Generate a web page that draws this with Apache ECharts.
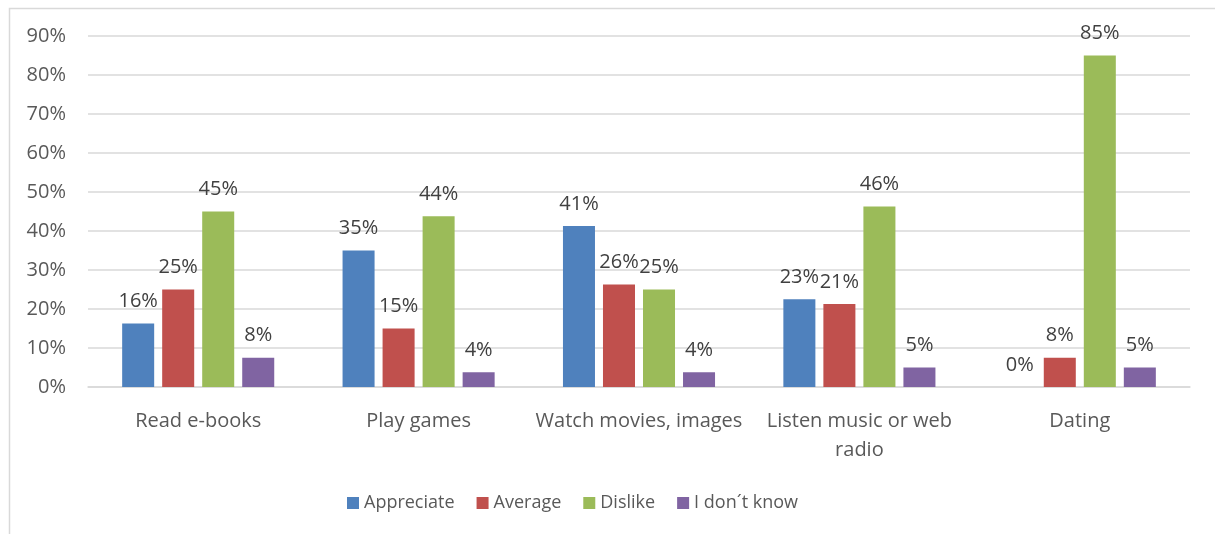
<!DOCTYPE html>
<html><head><meta charset="utf-8">
<script src="https://cdn.jsdelivr.net/npm/echarts@6/dist/echarts.min.js"></script>
<style>html,body{margin:0;padding:0;background:#fff}#c{width:1215px;height:534px}</style>
</head><body><div id="c"></div>
<script>
const categories = ['Read e-books', 'Play games', 'Watch movies, images', 'Listen music or web\nradio', 'Dating'];
const seriesNames = ['Appreciate', 'Average', 'Dislike', 'I don\u00b4t know'];
const appreciate = [16.3, 35, 41.3, 22.5, 0];
const average = [25, 15, 26.3, 21.3, 7.5];
const dislike = [45, 43.8, 25, 46.3, 85];
const dontKnow = [7.5, 3.8, 3.8, 5, 5];
const yTicks = [0, 10, 20, 30, 40, 50, 60, 70, 80, 90];
const colors = ['#4f81bd', '#c0504d', '#9bbb59', '#8064a2'];

const font = 'Open Sans';
const values = [appreciate, average, dislike, dontKnow];
const chart = echarts.init(document.getElementById('c'));
chart.setOption({
  animation: false,
  textStyle: {fontFamily: font},
  graphic: [{type: 'rect', left: 7, top: 6, shape: {width: 1300, height: 600},
    style: {fill: 'none', stroke: '#d9d9d9', lineWidth: 1.5}, silent: true}],
  grid: {left: 88, right: 25, top: 36, bottom: 147},
  legend: {top: 489, left: 342, itemWidth: 12, itemHeight: 12, itemGap: 22,
    icon: 'rect', textStyle: {fontSize: 18, color: '#595959', fontFamily: font}},
  xAxis: {type: 'category', data: categories,
    axisLine: {lineStyle: {color: '#d9d9d9', width: 1.5}}, axisTick: {show: false},
    axisLabel: {fontSize: 20, color: '#595959', margin: 20, lineHeight: 29, interval: 0}},
  yAxis: {type: 'value', min: yTicks[0], max: yTicks[yTicks.length - 1], interval: 10,
    axisLine: {show: false}, axisTick: {show: false},
    splitLine: {lineStyle: {color: '#d9d9d9', width: 1.5}},
    axisLabel: {fontSize: 20, color: '#595959', margin: 22, formatter: v => v + '%'}},
  series: seriesNames.map((n, i) => ({
    name: n, type: 'bar', data: values[i], barGap: '25%', barCategoryGap: '31%',
    itemStyle: {color: colors[i]},
    label: {show: true, position: 'top', distance: 12, fontSize: 20, color: '#404040',
      formatter: p => Math.round(p.value) + '%'}
  }))
});
</script></body></html>
